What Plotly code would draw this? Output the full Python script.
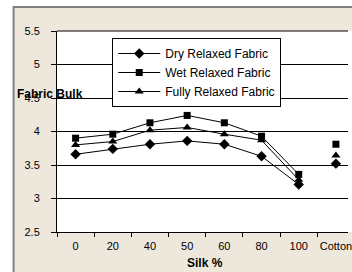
import plotly.graph_objects as go

categories = ["0", "20", "40", "50", "60", "80", "100", "Cotton"]
dry = [3.66, 3.74, 3.81, 3.86, 3.81, 3.63, 3.21, 3.52]
wet = [3.90, 3.96, 4.13, 4.24, 4.13, 3.93, 3.36, 3.81]
fully = [3.80, 3.85, 4.02, 4.06, 3.96, 3.87, 3.28, 3.64]
series_names = ["Dry Relaxed Fabric", "Wet Relaxed Fabric", "Fully Relaxed Fabric"]
y_ticks = [2.5, 3, 3.5, 4, 4.5, 5, 5.5]

FONT = "Liberation Sans, Arial, sans-serif"
symbols = ["diamond", "square", "triangle-up"]
sizes = [8, 7, 8]

fig = go.Figure()
for name, vals, sym, sz in zip(series_names, [dry, wet, fully], symbols, sizes):
    fig.add_trace(go.Scatter(
        x=categories[:-1], y=vals[:-1], name=name, mode="lines+markers",
        line=dict(color="black", width=1),
        marker=dict(symbol=sym, size=sz, color="black"),
    ))
for vals, sym, sz in zip([dry, wet, fully], symbols, sizes):
    fig.add_trace(go.Scatter(
        x=categories[-1:], y=vals[-1:], mode="markers", showlegend=False,
        marker=dict(symbol=sym, size=sz, color="black"),
    ))

W, H = 352, 272
L, T, B = 57, 31, 40
pw = W - L
ph = H - T - B

def px(xp):
    return (xp - L) / pw

def py(yp):
    return (H - B - yp) / ph

fig.update_layout(
    width=W, height=H,
    margin=dict(l=L, r=0, t=T, b=B, pad=0),
    paper_bgcolor="white", plot_bgcolor="white",
    font=dict(family=FONT, size=11, color="black"),
    showlegend=True,
    legend=dict(
        x=px(113), y=py(38), xanchor="left", yanchor="top",
        bgcolor="white", bordercolor="black", borderwidth=1,
        font=dict(size=12, family=FONT), itemwidth=42, tracegroupgap=0,
    ),
    xaxis=dict(
        type="category", categoryorder="array", categoryarray=categories,
        range=[-0.5, -0.5 + pw / 37.7],
        showgrid=False, showline=True, linecolor="black", linewidth=1,
        ticks="outside", ticklen=4, tickcolor="black", tickson="boundaries",
        tickfont=dict(size=11, family=FONT), zeroline=False,
        tickangle=0, ticklabelstandoff=4,
    ),
    yaxis=dict(
        range=[2.5, 5.5], tickvals=y_ticks, ticktext=[f"{v:g}" for v in y_ticks],
        showgrid=True, gridcolor="black", gridwidth=1,
        showline=True, linecolor="black", linewidth=1,
        ticks="outside", ticklen=5, tickcolor="black",
        tickfont=dict(size=11, family=FONT), zeroline=False,
        ticklabelstandoff=9,
    ),
    shapes=[
        dict(type="rect", xref="paper", yref="paper",
             x0=px(13), x1=1.2, y0=py(7), y1=py(290),
             fillcolor="#EEE8DC", line=dict(color="#808080", width=2), layer="below"),
        dict(type="rect", xref="paper", yref="paper",
             x0=0, x1=1.2, y0=0, y1=1,
             fillcolor="white", line=dict(width=0), layer="below"),
        dict(type="line", xref="paper", yref="paper", x0=0, x1=1, y0=1, y1=1,
             line=dict(color="black", width=1)),
    ],
    annotations=[
        dict(text="<b>Fabric Bulk</b>", xref="paper", yref="paper",
             x=px(14), y=py(94), xanchor="left", yanchor="middle", showarrow=False,
             font=dict(size=12, family=FONT)),
        dict(text="<b>Silk %</b>", xref="paper", yref="paper",
             x=px(207), y=py(263), xanchor="center", yanchor="middle", showarrow=False,
             font=dict(size=12, family=FONT)),
    ],
)

fig.write_html("out.html", config={"displayModeBar": False},
               post_script="document.body.style.margin='0';document.body.style.padding='0';")
